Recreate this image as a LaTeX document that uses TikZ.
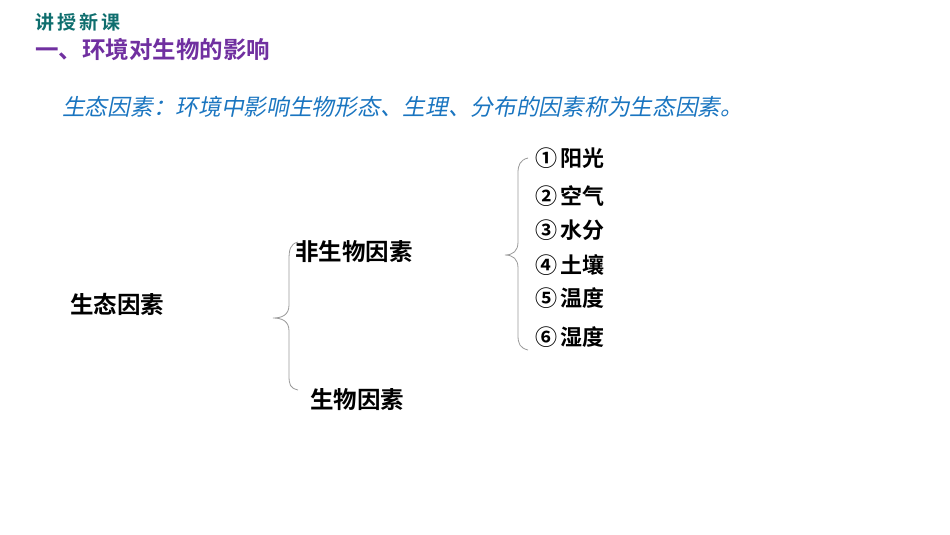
\documentclass[tikz,border=0pt]{standalone}
\usepackage{fontspec}
\newfontfamily\cjk{Noto Sans CJK SC}[BoldFont={* Bold}]
\newfontfamily\cjki{Noto Sans CJK SC}[FakeSlant=0.2]
\definecolor{teal1}{HTML}{0F6E6E}
\definecolor{purp}{HTML}{7030A0}
\definecolor{blu}{HTML}{1A75C0}
\tikzset{lbl/.style={anchor=west,inner sep=0pt,font=\cjk\bfseries\fontsize{22}{22}\selectfont},
brace/.style={draw=gray!80,line width=0.8pt}}
\begin{document}
\begin{tikzpicture}[x=1pt,y=-1pt]
\useasboundingbox (0,0) rectangle (950,535);
\node[anchor=west,inner sep=0pt,text=teal1,font=\cjk\bfseries\fontsize{19}{19}\selectfont] (t1) at (35,22) {讲\,授\,新\,课};
\node[anchor=west,inner sep=0pt,text=purp,font=\cjk\bfseries\fontsize{23.5}{23}\selectfont] (t2) at (35,50) {一、环境对生物的影响};
\node[anchor=west,inner sep=0pt,text=blu,font=\cjki\fontsize{22.7}{22}\selectfont] (t3) at (62,107) {生态因素：环境中影响生物形态、生理、分布的因素称为生态因素。};
\node[lbl,font=\cjk\bfseries\fontsize{23.5}{23}\selectfont] (a) at (70,304) {生态因素};
\node[lbl,font=\cjk\bfseries\fontsize{23.5}{23}\selectfont] (b) at (295,252) {非生物因素};
\node[lbl,font=\cjk\bfseries\fontsize{23.5}{23}\selectfont] (c) at (310,400) {生物因素};
\node[lbl] (i1) at (535,158) {①\,阳光};
\node[lbl] (i2) at (535,196) {②\,空气};
\node[lbl] (i3) at (535,230) {③\,水分};
\node[lbl] (i4) at (535,265) {④\,土壤};
\node[lbl] (i5) at (535,298) {⑤\,温度};
\node[lbl] (i6) at (535,337) {⑥\,湿度};
\draw[brace] (298,242) .. controls (290,244) and (289,250) .. (289,260) -- (289,305) .. controls (289,315) and (282,318) .. (273,318) .. controls (282,318) and (289,321) .. (289,331) -- (289,375) .. controls (289,385) and (290,388) .. (298,390);
\draw[brace] (528,158) .. controls (520,160) and (518,165) .. (518,173) -- (518,242) .. controls (518,251) and (513,255) .. (505,255) .. controls (513,255) and (518,259) .. (518,268) -- (518,335) .. controls (518,344) and (520,348) .. (528,350);
\end{tikzpicture}
\end{document}
